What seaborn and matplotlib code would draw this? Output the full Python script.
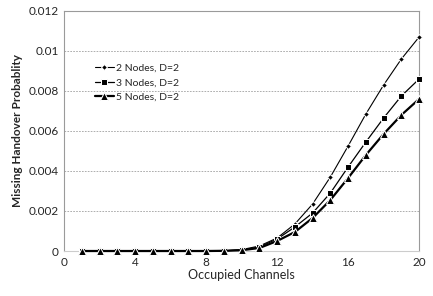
import numpy as np
import pandas as pd
import matplotlib
matplotlib.use("Agg")
import matplotlib.pyplot as plt
import seaborn as sns
from matplotlib.ticker import FuncFormatter

# ==============================
# DATA
# ==============================
channels = list(range(1, 21))
nodes2 = [0, 0, 0, 0, 0, 0, 0, 0, 0.00001, 0.00007, 0.00025, 0.00065,
          0.00135, 0.00235, 0.0037, 0.00525, 0.00685, 0.0083, 0.0096, 0.0107]
nodes3 = [0, 0, 0, 0, 0, 0, 0, 0, 0.00001, 0.00005, 0.0002, 0.0006,
          0.0012, 0.0019, 0.0029, 0.0042, 0.00545, 0.00665, 0.00775, 0.0086]
nodes5 = [0, 0, 0, 0, 0, 0, 0, 0, 0.00001, 0.00004, 0.00015, 0.0005,
          0.00095, 0.00165, 0.00255, 0.00365, 0.0048, 0.00585, 0.0068, 0.0076]
series_names = ["2 Nodes, D=2", "3 Nodes, D=2", "5 Nodes, D=2"]

df = pd.DataFrame({
    "channels": channels * 3,
    "prob": nodes2 + nodes3 + nodes5,
    "series": [s for s in series_names for _ in channels],
})

sns.set_style("white")
plt.rcParams["font.family"] = ["Lato", "DejaVu Sans"]

fig = plt.figure(figsize=(4.33, 2.96), dpi=100)
ax = fig.add_axes([0.148, 0.152, 0.82, 0.811])

styles = {
    "2 Nodes, D=2": dict(marker="D", markersize=3, linewidth=0.8),
    "3 Nodes, D=2": dict(marker="s", markersize=5, linewidth=0.9),
    "5 Nodes, D=2": dict(marker="^", markersize=6, linewidth=1.6),
}
for name in series_names:
    sub = df[df["series"] == name]
    sns.lineplot(data=sub, x="channels", y="prob", ax=ax, color="black",
                 label=name, clip_on=False, zorder=3, **styles[name])

ax.set_xlim(0, 20)
ax.set_ylim(0, 0.012)
ax.set_xticks(range(0, 21, 4))
ax.set_yticks(np.arange(0, 0.0121, 0.002))
ax.yaxis.set_major_formatter(FuncFormatter(lambda v, p: f"{round(v, 4):g}"))
ax.tick_params(labelsize=8.5, length=0, pad=4)
ax.yaxis.grid(True, linestyle=(0, (2, 1.5)), color="#a0a0a0", linewidth=0.6)

for side in ["left", "top", "right", "bottom"]:
    ax.spines[side].set_visible(True)
    ax.spines[side].set_color("#9a9a9a")
    ax.spines[side].set_linewidth(0.8)
ax.spines["bottom"].set_color("#cccccc")

ax.set_xlabel("Occupied Channels", fontsize=9, labelpad=1)
ax.set_ylabel("Missing Handover Probablity", fontsize=8.5, fontweight="bold", labelpad=4)

ax.legend(loc="upper left", bbox_to_anchor=(0.06, 0.82), frameon=False,
          fontsize=7.5, handlelength=1.8, handletextpad=0.2, labelspacing=0.5)

plt.savefig("out.png", dpi=100)
